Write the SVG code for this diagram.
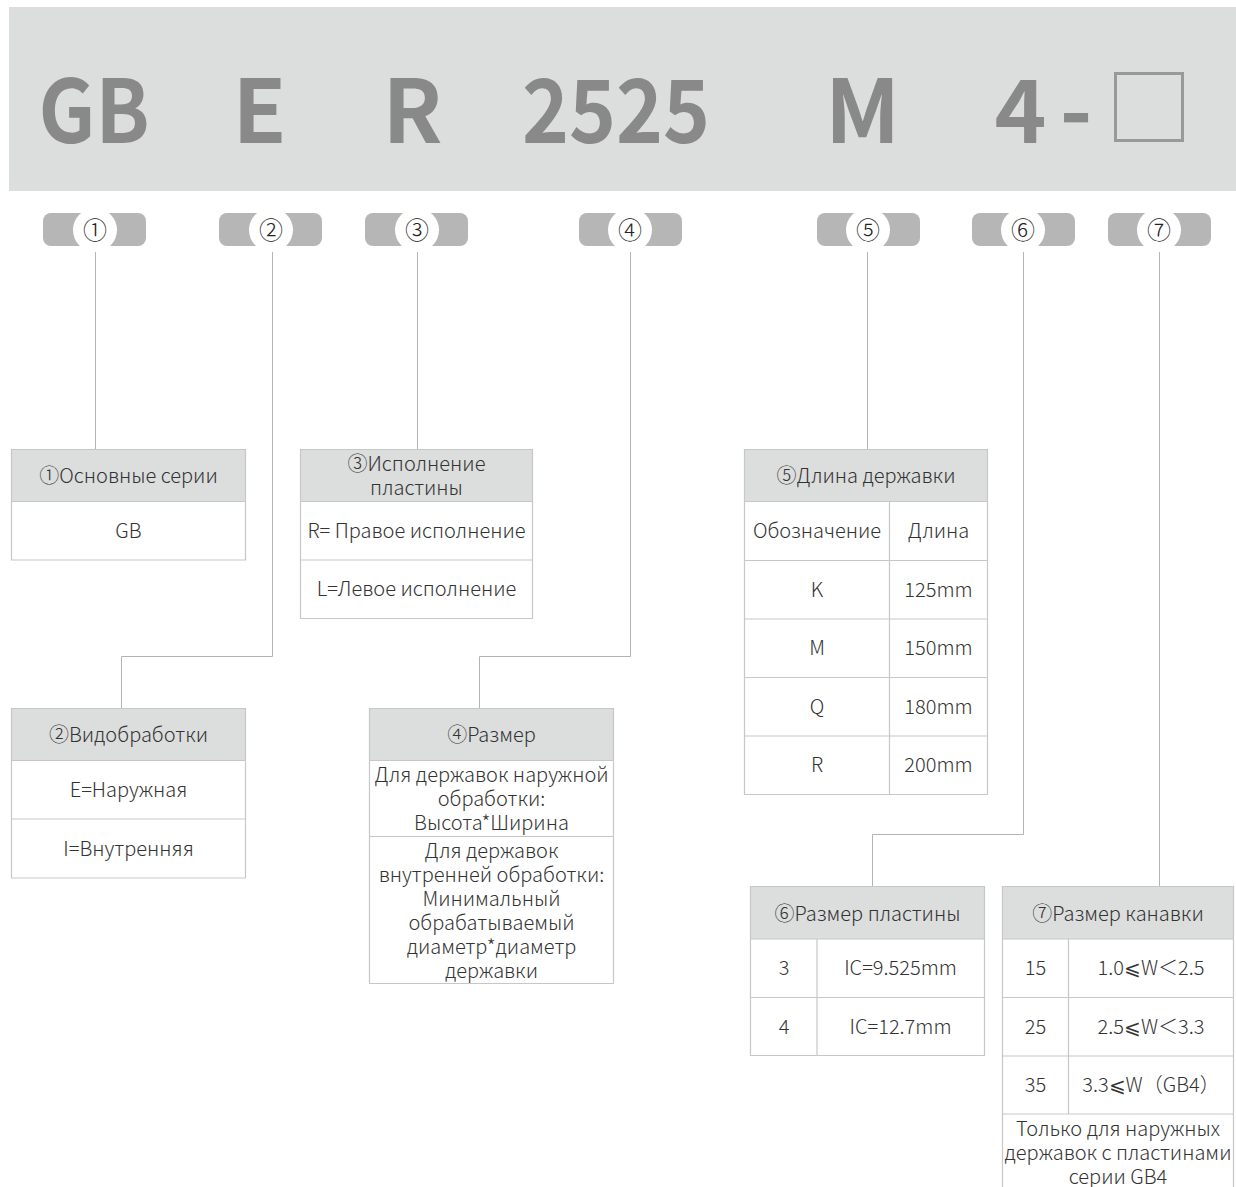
<svg xmlns="http://www.w3.org/2000/svg" width="1236" height="1187" viewBox="0 0 1236 1187">
<style>
.banner{font-family:"Noto Sans CJK SC","Noto Sans",sans-serif;font-weight:700;font-size:88px;fill:#898989;text-anchor:middle}
.pill{fill:#b5b6b5}
.pc{fill:#ffffff}
.num{font-family:"Noto Sans CJK SC","Noto Sans",sans-serif;font-weight:300;font-size:24px;fill:#222;text-anchor:middle}
.hdr{fill:#dcdddd}
.cell{fill:#ffffff}
.grid{fill:none;stroke:#c6c7c7;stroke-width:1.2}
.t{font-family:"Noto Sans CJK SC","Noto Sans",sans-serif;font-weight:300;font-size:20px;fill:#333;text-anchor:middle}
.conn{fill:none;stroke:#b4b4b4;stroke-width:1}
</style>
<rect x="0" y="0" width="1236" height="1187" fill="#ffffff"/>
<g id="banner">
<rect x="9" y="7" width="1227" height="184" fill="#dcdddd"/>
<text class="banner" x="94" y="143" textLength="111" lengthAdjust="spacingAndGlyphs">GB</text>
<text class="banner" x="259.5" y="143">E</text>
<text class="banner" x="412.5" y="143">R</text>
<text class="banner" x="616" y="143" textLength="188" lengthAdjust="spacingAndGlyphs">2525</text>
<text class="banner" x="862.5" y="143">M</text>
<text class="banner" x="1020.5" y="143">4</text>
<text class="banner" x="1076" y="143">-</text>
<rect x="1115.5" y="73.5" width="67" height="67" fill="none" stroke="#999999" stroke-width="3"/>
</g>
<g id="badges">
<g id="badge1"><rect class="pill" x="43" y="213" width="103" height="33" rx="8"/><circle class="pc" cx="95" cy="230" r="22"/><text class="num" x="95" y="238.5">①</text></g>
<g id="badge2"><rect class="pill" x="219" y="213" width="103" height="33" rx="8"/><circle class="pc" cx="271" cy="230" r="22"/><text class="num" x="271" y="238.5">②</text></g>
<g id="badge3"><rect class="pill" x="365" y="213" width="103" height="33" rx="8"/><circle class="pc" cx="417" cy="230" r="22"/><text class="num" x="417" y="238.5">③</text></g>
<g id="badge4"><rect class="pill" x="579" y="213" width="103" height="33" rx="8"/><circle class="pc" cx="630" cy="230" r="22"/><text class="num" x="630" y="238.5">④</text></g>
<g id="badge5"><rect class="pill" x="817" y="213" width="103" height="33" rx="8"/><circle class="pc" cx="868" cy="230" r="22"/><text class="num" x="868" y="238.5">⑤</text></g>
<g id="badge6"><rect class="pill" x="972" y="213" width="103" height="33" rx="8"/><circle class="pc" cx="1023" cy="230" r="22"/><text class="num" x="1023" y="238.5">⑥</text></g>
<g id="badge7"><rect class="pill" x="1108" y="213" width="103" height="33" rx="8"/><circle class="pc" cx="1159" cy="230" r="22"/><text class="num" x="1159" y="238.5">⑦</text></g>
</g>
<g id="connectors">
<path class="conn" d="M95.5 252 V449"/>
<path class="conn" d="M272.5 252 V656.5 H121.5 V708"/>
<path class="conn" d="M417.5 252 V449"/>
<path class="conn" d="M630.5 252 V656.5 H479.5 V708"/>
<path class="conn" d="M867.5 252 V449"/>
<path class="conn" d="M1023.5 252 V834.5 H872.5 V886"/>
<path class="conn" d="M1159.5 252 V886"/>
</g>
<g id="box1">
<rect class="hdr" x="11.5" y="449.5" width="234" height="52"/>
<rect class="cell" x="11.5" y="501.5" width="234" height="58.5"/>
<path class="grid" d="M11.5 449.5 H245.5 V560 H11.5 Z M11.5 501.5 H245.5"/>
<text class="t" x="128.5" y="483">①Основные серии</text>
<text class="t" x="128.5" y="538">GB</text>
</g>
<g id="box3">
<rect class="hdr" x="300.5" y="449.5" width="232" height="52"/>
<path class="grid" d="M300.5 449.5 H532.5 V618.5 H300.5 Z M300.5 501.5 H532.5 M300.5 560 H532.5"/>
<text class="t" x="416.5" y="471">③Исполнение</text>
<text class="t" x="416.5" y="495">пластины</text>
<text class="t" x="416.5" y="538">R= Правое исполнение</text>
<text class="t" x="416.5" y="596">L=Левое исполнение</text>
</g>
<g id="box2">
<rect class="hdr" x="11.5" y="708.5" width="234" height="52"/>
<path class="grid" d="M11.5 708.5 H245.5 V878 H11.5 Z M11.5 760.5 H245.5 M11.5 819 H245.5"/>
<text class="t" x="128.5" y="742">②Видобработки</text>
<text class="t" x="128.5" y="797">E=Наружная</text>
<text class="t" x="128.5" y="856">I=Внутренняя</text>
</g>
<g id="box4">
<rect class="hdr" x="369.5" y="708.5" width="244" height="52"/>
<path class="grid" d="M369.5 708.5 H613.5 V983.5 H369.5 Z M369.5 760.5 H613.5 M369.5 836.5 H613.5"/>
<text class="t" x="491.5" y="742">④Размер</text>
<text class="t" x="491.5" y="782">Для державок наружной</text>
<text class="t" x="491.5" y="806">обработки:</text>
<text class="t" x="491.5" y="830">Высота*Ширина</text>
<text class="t" x="491.5" y="858">Для державок</text>
<text class="t" x="491.5" y="882">внутренней обработки:</text>
<text class="t" x="491.5" y="906">Минимальный</text>
<text class="t" x="491.5" y="930">обрабатываемый</text>
<text class="t" x="491.5" y="954">диаметр*диаметр</text>
<text class="t" x="491.5" y="978">державки</text>
</g>
<g id="box5">
<rect class="hdr" x="744.5" y="449.5" width="243" height="52"/>
<path class="grid" d="M744.5 449.5 H987.5 V794.5 H744.5 Z M744.5 501.5 H987.5 M744.5 560.5 H987.5 M744.5 619 H987.5 M744.5 677.5 H987.5 M744.5 736 H987.5 M889.5 501.5 V794.5"/>
<text class="t" x="866" y="483">⑤Длина державки</text>
<text class="t" x="817" y="538">Обозначение</text>
<text class="t" x="938.5" y="538">Длина</text>
<text class="t" x="817" y="597">K</text>
<text class="t" x="938.5" y="597">125mm</text>
<text class="t" x="817" y="655">M</text>
<text class="t" x="938.5" y="655">150mm</text>
<text class="t" x="817" y="714">Q</text>
<text class="t" x="938.5" y="714">180mm</text>
<text class="t" x="817" y="772">R</text>
<text class="t" x="938.5" y="772">200mm</text>
</g>
<g id="box6">
<rect class="hdr" x="750.5" y="886.5" width="234" height="52.5"/>
<path class="grid" d="M750.5 886.5 H984.5 V1055.5 H750.5 Z M750.5 939 H984.5 M750.5 997.5 H984.5 M817 939 V1055.5"/>
<text class="t" x="867.5" y="921">⑥Размер пластины</text>
<text class="t" x="784" y="975">3</text>
<text class="t" x="900.5" y="975">IC=9.525mm</text>
<text class="t" x="784" y="1034">4</text>
<text class="t" x="900.5" y="1034">IC=12.7mm</text>
</g>
<g id="box7">
<rect class="hdr" x="1002.5" y="886.5" width="231" height="52.5"/>
<path class="grid" d="M1002.5 1195 V886.5 H1233.5 V1195 M1002.5 939 H1233.5 M1002.5 997.5 H1233.5 M1002.5 1056 H1233.5 M1002.5 1114 H1233.5 M1068.5 939 V1114"/>
<text class="t" x="1118" y="921">⑦Размер канавки</text>
<text class="t" x="1035.5" y="975">15</text>
<text class="t" x="1151" y="975">1.0⩽W＜2.5</text>
<text class="t" x="1035.5" y="1034">25</text>
<text class="t" x="1151" y="1034">2.5⩽W＜3.3</text>
<text class="t" x="1035.5" y="1092">35</text>
<text class="t" x="1151" y="1092">3.3⩽W（GB4）</text>
<text class="t" x="1118" y="1136">Только для наружных</text>
<text class="t" x="1118" y="1160">державок с пластинами</text>
<text class="t" x="1118" y="1184">серии GB4</text>
</g>
</svg>
